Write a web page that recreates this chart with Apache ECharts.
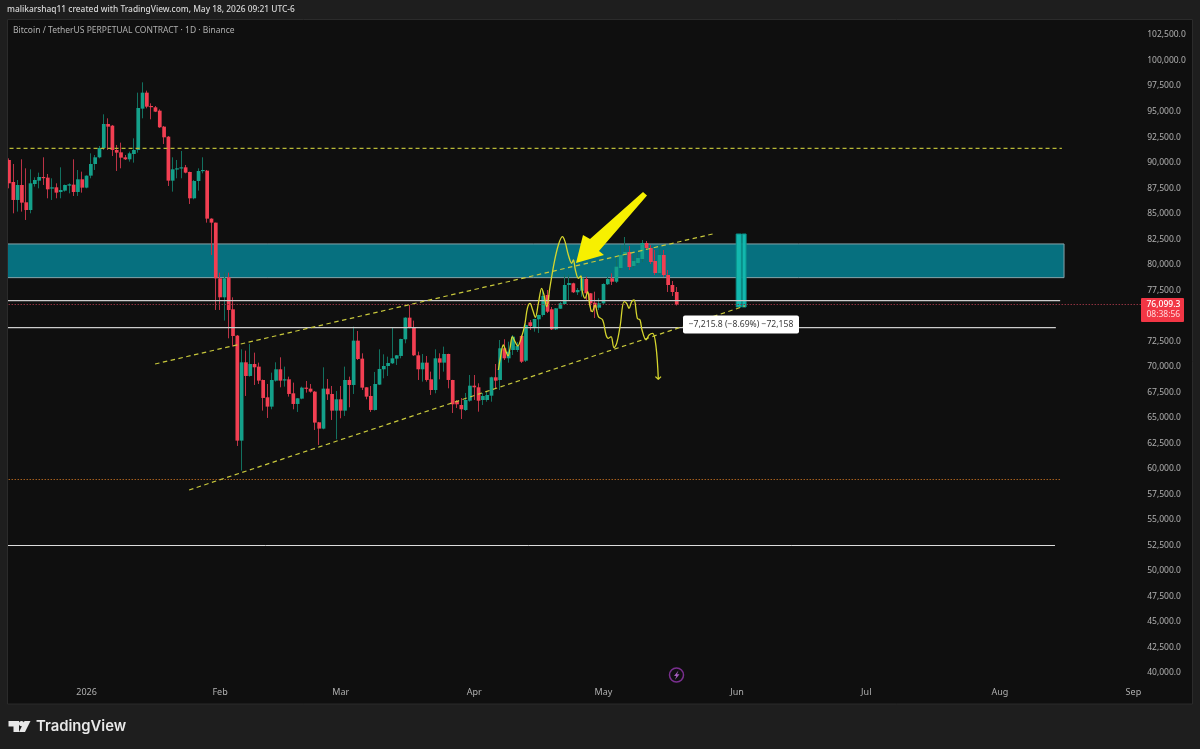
<!DOCTYPE html>
<html>
<head>
<meta charset="utf-8">
<style>html,body{margin:0;padding:0;background:#1e1e1e}#c{width:1200px;height:749px}</style>
<script src="https://cdn.jsdelivr.net/npm/echarts@6/dist/echarts.min.js"></script>
</head>
<body>
<div id="c"></div>
<script>
// Daily candles from 2025-12-14 to 2026-05-18: [open, close, low, high]
const candles = [
[90257,87971,87481,90420],[88100,86339,85032,89865],[86339,87808,85196,88297],[87808,86077,85196,90322],
[86110,85359,84380,89440],[85359,87971,85032,89342],[87906,88297,87645,88559],[88232,88591,87481,89016],
[88591,88526,87808,90518],[88526,87383,86502,88885],[87449,87579,86339,88461],[87579,87057,86502,87971],
[87122,87318,86502,89538],[87253,87808,87155,87850],[87742,87873,86991,87971],[87840,87122,86730,90322],
[87122,88363,86730,89277],[88363,87547,87057,89114],[87547,88722,87481,88750],[88722,89865,88461,90909],
[89865,90518,89277,90746],[90518,91432,90420,91628],[91432,93783,91236,94729],[93783,93522,91236,94338],
[93619,91236,90648,93685],[91236,90975,89179,91726],[91007,90485,89440,91954],[90518,90322,90257,90746],
[90322,90909,90093,91073],[90844,91236,89995,92379],[91236,95350,90975,96852],[95285,96852,94338,97864],
[96852,95480,95317,97048],[95546,95480,94240,95807],[95415,94991,94950,95546],[95089,93456,93400,95219],
[93522,92477,91824,93587],[92542,88232,87710,92607],[88232,89342,87155,90518],[89342,89440,88461,90257],
[89473,89538,88461,91138],[89538,89016,88951,89767],[89081,86502,85947,89114],[86502,88199,86404,88297],
[88199,89179,87253,89440],[89212,89277,88951,90518],[89212,84510,84118,89277],[84510,84118,80950,84543],
[84118,78664,75562,84118],[78664,76803,75562,79219],[76803,78664,74518,79219],[78762,75562,72787,79219],
[75628,73016,71971,76803],[73048,62764,62241,73113],[62764,70436,59825,71710],[70436,69098,67139,71579],
[69098,70273,69032,72232],[70273,69947,68216,71383],[70012,68641,68314,70404],[68706,66943,65702,68750],
[67008,66094,64984,68314],[66094,68706,65833,69424],[68641,69751,68543,70436],[69751,68641,67988,70926],
[68706,68771,68053,70012],[68771,67335,67073,69032],[67400,66355,65833,68445],[66355,66910,65571,66940],
[66877,67955,66812,68053],[67955,67857,67465,68608],[67857,67563,67465,68314],[67563,64527,63808,67628],
[64559,63939,62339,64600],[63939,67857,63874,69947],[67857,67302,66747,68804],[67335,65702,64788,68118],
[65702,66812,62894,67628],[66812,65702,64951,68118],[65702,68706,65180,70012],[68706,68216,66028,69032],
[68216,72559,67335,73930],[72559,70763,70665,73505],[70796,67955,67726,71318],[67988,67073,66812,68000],
[67139,65767,65571,68118],[65767,68314,65702,69490],[68249,69784,68216,71710],[69751,70077,68869,71220],
[70077,70371,69098,70991],[70338,70828,70273,73799],[70796,71122,70175,71150],[71057,72722,70828,72750],
[72689,74812,72297,74850],[74812,73799,73767,76052],[73799,71122,71057,74518],[71122,69751,68706,71481],
[69751,70404,68543,71253],[70404,68706,68543,71057],[68771,67726,67237,69522],[67726,70828,67400,71710],
[70828,70404,68771,71318],[70404,71253,69522,71971],[71253,68706,67890,71280],[68704,66324,65471,68720],
[66647,66324,65961,66745],[66255,65834,64883,66941],[65765,66745,65667,67431],[66676,68146,66578,69194],
[68146,67989,66745,69194],[67989,66676,65599,68380],[66745,67137,66255,67431],[66745,67235,66578,67558],
[67166,68969,66578,69028],[68969,68636,67822,70271],[68704,71809,67724,72623],[71809,70829,70663,72691],
[70829,71476,70399,72456],[71643,72946,71153,73113],[71643,72035,71447,72428],[73014,70497,70369,73113],
[70595,74092,70467,74289],[74356,73993,73602,74582],[73866,74678,73436,74700],[74650,75072,73308,75100],
[75072,76932,74905,77521],[77030,75395,75267,77521],[75630,73670,73602,75855],[73670,75728,73602,75757],
[75688,76217,75659,76345],[76149,78010,76051,79000],[78010,78206,76541,79000],[78176,77295,77226,78236],
[77295,77521,77030,77717],[77451,78667,76864,79000],[78598,77197,76541,78823],[77197,76217,75395,77226],
[76277,75786,74778,77354],[75786,76217,75561,76707],[76217,78108,76051,78176],[78080,78598,78010,78823],
[78667,78333,78010,79156],[78333,79803,78206,80949],[79676,80949,79480,81929],[80949,81243,80656,82713],
[81243,79774,79480,81831],[79872,80361,79676,80949],[80166,80656,79970,81243],[80558,82125,80264,82419],
[82125,81635,81439,82322],[81635,80264,80068,81929],[80361,79186,78990,81439],[79186,80949,78990,81929],
[80949,78990,78794,81439],[78990,78010,77325,79480],[78010,77325,76933,78402],[77325,76099.3,76000,77815]
];

const monthLabels = {'2026-01-01':'2026','2026-02-01':'Feb','2026-03-01':'Mar','2026-04-01':'Apr','2026-05-01':'May','2026-06-01':'Jun','2026-07-01':'Jul','2026-08-01':'Aug','2026-09-01':'Sep'};

// Drawings: [days after 2025-12-14, price]
const leftEdge = -1.5, rightEdge = 263.5;
const lastPrice = 76099.3;
const resistanceBand = [78730, 82030, 244.9];
const whiteUpper = [[leftEdge,76472],[244,76472]];
const whiteLower = [[leftEdge,73828],[243,73828]];
const whiteBottom = [[leftEdge,52490],[242.8,52490]];
const dashedTop = [[leftEdge,91390],[244.4,91390]];
const dottedLow = [[leftEdge,58957],[244,58957]];
const dottedLast = [[leftEdge,lastPrice],[rightEdge,lastPrice]];
const channelUpper = [[33.9,70271],[164,83075]];
const channelLower = [[41.8,57929],[170.8,75953]];
const tealBarA = [168.8,170,75855,83006];
const tealBarB = [170.2,171.1,75855,83006];
const bigArrow = [[147.17,87120],[148.1,86778],[136.95,81341],[138.11,80949],[131.62,80166],[133.24,82908],[134.87,82517]];
const scenarioCurve = [[113.59,69685],[113.98,70665],[114.75,72134],[115.37,71481],[115.84,71057],[116.3,71808],[116.84,72950],[117.46,72461],[118.08,72036],[119.01,72950],[119.78,74257],[120.33,75726],[120.94,76216],[121.56,75563],[122.18,74844],[122.88,76216],[123.65,77685],[124.19,77032],[124.81,75889],[125.59,77848],[126.52,80134],[127.52,81929],[128.45,82746],[129.07,82256],[129.84,80950],[130.62,80134],[131,80460],[131.47,79481],[132.17,78664],[132.78,78893],[133.02,77522],[133.71,76705],[134.33,77358],[134.87,75889],[135.41,75399],[136.03,76052],[136.81,74910],[137.81,74583],[138.59,73114],[139.13,72787],[139.75,72950],[140.44,71873],[141.06,72297],[141.84,73930],[142.77,76379],[143.38,76216],[143.93,75726],[144.55,76379],[145.09,76542],[145.86,74746],[146.48,74583],[146.94,73604],[147.87,72624],[148.57,73114],[149.42,73277],[150.19,71971],[150.73,68771]];
const curveHead = [[150.04,69033],[150.73,68771],[151.35,69033]];

const dates = [];
for (let i = 0; i < 265; i++) dates.push(new Date(Date.UTC(2025, 11, 13 + i)).toISOString().slice(0, 10));

const FONT = 'Noto Sans';
const TICK = '#b0b0b0';
const UP = '#14a08a', DOWN = '#f23f52', UP_WICK = '#12705f', DOWN_WICK = '#bb3346';
function line(data, color, width, type, z, extra) {
  return Object.assign({type:'line', xAxisIndex:1, yAxisIndex:0, data, symbol:'none', silent:true, animation:false, z,
    lineStyle:{color, width, type}}, extra || {});
}
const chart = echarts.init(document.getElementById('c'), null, {renderer:'canvas'});
chart.setOption({
  animation:false,
  backgroundColor:'#1e1e1e',
  grid:{left:2.54, width:1141.62, top:35, height:638, containLabel:false},
  xAxis:[
    {type:'category', data:dates, boundaryGap:true, axisLine:{show:false}, axisTick:{show:false}, splitLine:{show:false},
     axisLabel:{color:TICK, fontFamily:FONT, fontSize:9, margin:15, hideOverlap:false,
       interval:(i,v)=>v in monthLabels, formatter:v=>monthLabels[v]||''}},
    {type:'value', min:leftEdge, max:rightEdge, show:false, splitLine:{show:false}}
  ],
  yAxis:[{type:'value', position:'right', min:40000, max:102500, interval:2500, scale:false,
    axisLine:{show:false}, axisTick:{show:false}, splitLine:{show:false},
    axisLabel:{color:TICK, fontFamily:FONT, fontSize:8.5, margin:3, showMinLabel:true, showMaxLabel:true,
      formatter:v=>v.toLocaleString('en-US',{minimumFractionDigits:1,maximumFractionDigits:1})}}],
  series:[
    line([], '#000', 0, 'solid', 1, {
      markArea:{silent:true, animation:false, z:1, data:[[
        {coord:[leftEdge,resistanceBand[1]], itemStyle:{color:'#06707f', borderColor:'#87a4aa', borderWidth:1}},
        {coord:[resistanceBand[2],resistanceBand[0]]}
      ]]}
    }),
    {type:'candlestick', xAxisIndex:0, yAxisIndex:0, z:2, barWidth:1, animation:false, silent:true,
      data:[['-','-','-','-']].concat(candles),
      itemStyle:{color:UP_WICK, color0:DOWN_WICK, borderColor:UP_WICK, borderColor0:DOWN_WICK, borderColorDoji:UP_WICK, borderWidth:1}},
    {type:'custom', xAxisIndex:0, yAxisIndex:0, z:2.5, silent:true, animation:false,
      encode:{x:0,y:[1,2]},
      data:candles.map((c,i)=>[dates[i+1],c[0],c[1]]),
      renderItem:(p,api)=>{
        const a = api.coord([api.value(0),api.value(1)]), b = api.coord([api.value(0),api.value(2)]);
        const h = Math.max(Math.abs(a[1]-b[1]),1.2);
        return {type:'rect', shape:{x:a[0]-1.85,y:Math.min(a[1],b[1]),width:3.7,height:h},
          style:{fill:api.value(2)>=api.value(1)?UP:DOWN}};
      }},
    line(whiteUpper,'#cccccc',1.3,'solid',3),
    line(whiteLower,'#cccccc',1.3,'solid',3),
    line(whiteBottom,'#dcdcdc',1,'solid',3),
    line(dashedTop,'#b8b836',1.2,[4,3],3),
    line(dottedLow,'#a5601f',1,[1.5,1.5],3),
    line(dottedLast,'#8f3340',1,[1.5,1.5],3),
    line(channelUpper,'#c8c83c',1.2,[4.5,3.5],4),
    line(channelLower,'#c8c83c',1.2,[4.5,3.5],4),
    line([], '#000', 0, 'solid', 5, {
      markArea:{silent:true, animation:false, data:[
        [{coord:[tealBarA[0],tealBarA[3]], itemStyle:{color:'#12b8ae', borderColor:'#0b8f88', borderWidth:1}},{coord:[tealBarA[1],tealBarA[2]]}],
        [{coord:[tealBarB[0],tealBarB[3]], itemStyle:{color:'#12b8ae', borderColor:'#0b8f88', borderWidth:1}},{coord:[tealBarB[1],tealBarB[2]]}]
      ]}
    }),
    line(scenarioCurve,'#d6d62e',1.3,'solid',6,{smooth:0.35}),
    line(curveHead,'#d6d62e',1.3,'solid',6),
    {type:'custom', xAxisIndex:1, yAxisIndex:0, z:7, silent:true, animation:false, data:[bigArrow[0]],
      renderItem:(p,api)=>({type:'polygon', shape:{points:bigArrow.map(a=>api.coord(a))}, style:{fill:'#f7f000'}})}
  ],
  graphic:[
    {type:'rect', z:-10, shape:{x:7.5,y:19.5,width:1185,height:684.5}, style:{fill:'#0f0f0f', stroke:'#2b2b2b', lineWidth:1}},
    {type:'rect', z:50, shape:{x:0,y:19,width:7,height:686}, style:{fill:'#1e1e1e'}},
    {type:'rect', z:50, shape:{x:7,y:20,width:1,height:684}, style:{fill:'#2b2b2b'}},
    {type:'text', z:60, x:7, y:10, style:{text:'malikarshaq11 created with TradingView.com, May 18, 2026 09:21 UTC-6', fill:'#d8d8d8', font:'500 8.4px "Noto Sans"', textVerticalAlign:'middle'}},
    {type:'text', z:60, x:13, y:30.5, style:{text:'Bitcoin / TetherUS PERPETUAL CONTRACT · 1D · Binance', fill:'#b0b0b0', font:'8.5px "Noto Sans"', textVerticalAlign:'middle'}},
    {type:'rect', z:60, shape:{x:683,y:315.5,width:116,height:18,r:2}, style:{fill:'#ffffff'}},
    {type:'text', z:61, x:741,y:324.5, style:{text:'−7,215.8 (−8.69%) −72,158', fill:'#3a3a3a', font:'8.6px "Noto Sans"', textAlign:'center', textVerticalAlign:'middle'}},
    {type:'rect', z:60, shape:{x:1141,y:298,width:43,height:24,r:1}, style:{fill:'#f23645'}},
    {type:'text', z:61, x:1146.5,y:304.5, style:{text:'76,099.3', fill:'#ffffff', font:'500 8.5px "Noto Sans"', textVerticalAlign:'middle'}},
    {type:'text', z:61, x:1146.5,y:315, style:{text:'08:38:56', fill:'#ffd6da', font:'8.5px "Noto Sans"', textVerticalAlign:'middle'}},
    {type:'circle', z:60, shape:{cx:676.5,cy:675,r:7}, style:{fill:'transparent', stroke:'#7a2f8f', lineWidth:1.5}},
    {type:'polygon', z:60, shape:{points:[[678.5,670.5],[674,676],[676.3,676],[675,679.8],[679.5,674.2],[677,674.2]]}, style:{fill:'#a45cbc'}},
    {type:'polygon', z:60, shape:{points:[[8.5,721],[19,721],[19,732],[13.5,732],[13.5,726.5],[8.5,726.5]]}, style:{fill:'#e8e8e8'}},
    {type:'circle', z:60, shape:{cx:21.5,cy:723.6,r:2.6}, style:{fill:'#e8e8e8'}},
    {type:'polygon', z:60, shape:{points:[[24.5,721],[30.5,721],[25,732],[19,732]]}, style:{fill:'#e8e8e8'}},
    {type:'text', z:60, x:36, y:727, style:{text:'TradingView', fill:'#e8e8e8', font:'600 14.8px Inter', textVerticalAlign:'middle'}}
  ]
});
</script>
</body>
</html>
